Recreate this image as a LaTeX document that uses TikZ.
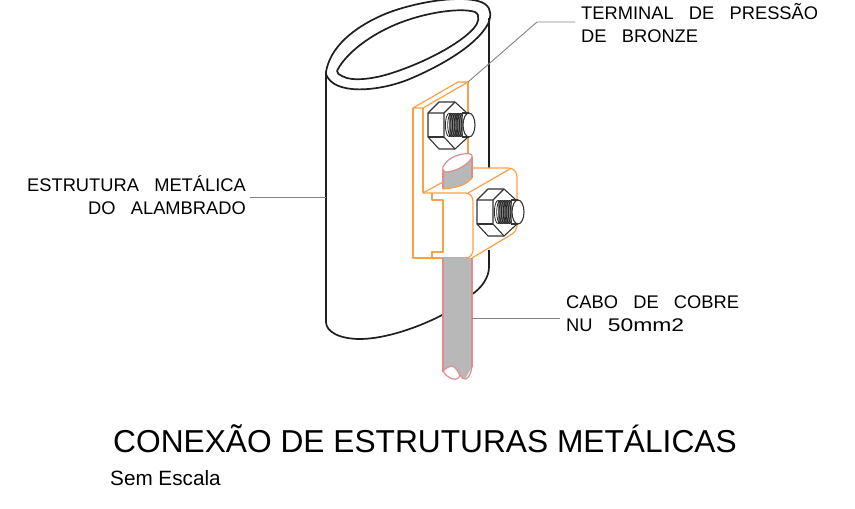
\documentclass[tikz,border=0pt]{standalone}
\usepackage{fontspec}
\setmainfont{Liberation Sans}
\newfontfamily\cadfont[WordSpace=3.0]{Liberation Sans}
\definecolor{brz}{RGB}{250,160,70}
\definecolor{cab}{RGB}{225,140,140}
\definecolor{lead}{RGB}{130,130,130}
\definecolor{cabfill}{RGB}{184,184,184}
\tikzset{
 tube/.style={line width=1.7pt,black!88},
 brzline/.style={line width=1.2pt,brz,line join=round},
 cabline/.style={line width=1.2pt,cab},
 leadline/.style={line width=0.9pt,lead},
 nutline/.style={line width=1.1pt,black!80,line join=round},
 cadlabel/.style={font=\cadfont\fontsize{18.3}{23}\selectfont,inner sep=0pt,align=left},
 cadright/.style={font=\cadfont\fontsize{18.3}{23}\selectfont,inner sep=0pt,align=right},
}
\newcommand{\nutbolt}[2]{%
 \begin{scope}[shift={(#1,#2)}]
  \fill[white] (-23,-12) -- (-12,-23) -- (4,-23) -- (16,-12) -- (16,13) -- (4,24) -- (-12,24) -- (-23,12) -- cycle;
  \draw[nutline] (-23,-12) -- (-12,-23) -- (4,-23) -- (16,-12) -- (16,13) -- (4,24) -- (-12,24) -- (-23,12) -- cycle;
  \draw[nutline] (-23,-12) -- (-7,-12) -- (4,-23);
  \draw[nutline] (-7,-12) -- (-7,12) -- (4,24);
  \draw[nutline] (-23,12) -- (-7,12);
  \fill[black!50] (-2,-12) rectangle (12,12);
  \foreach \t in {-2,0.3,2.6,4.9,7.2,9.5,11.8}{\draw[line width=0.8pt,black!85] (\t,0) ellipse (3.6 and 11.5);}
  \fill[white] (12,-12) rectangle (18,12);
  \draw[nutline,fill=white] (18,0) ellipse (6 and 12);
  \draw[nutline] (11,-12) -- (18,-12) (11,12) -- (18,12);
 \end{scope}}
\begin{document}
\begin{tikzpicture}[x=1pt,y=-1pt]
\useasboundingbox (0,0) rectangle (855,509);
% tube
\draw[tube] (326,72) .. controls (330,48) and (352,28) .. (385,14) .. controls (420,0) and (470,-6) .. (485,4) .. controls (492,9) and (491,17) .. (488,24) .. controls (476,46) and (440,66) .. (412,78) .. controls (385,90) and (340,96) .. (328,78) .. controls (326,76) and (326,74) .. (326,72);
\draw[tube] (337,71) .. controls (343,58) and (362,40) .. (390,27) .. controls (420,13) and (460,7) .. (475,12) .. controls (481,15) and (478,24) .. (474,28) .. controls (460,44) and (425,62) .. (395,72) .. controls (375,79) and (352,82) .. (342,76) .. controls (339,75) and (337,73) .. (337,71);
\draw[tube] (326,72) -- (326,322) .. controls (326,332) and (340,339) .. (360,339) .. controls (385,339) and (420,327) .. (444,314);
\draw[tube] (489,18) -- (489,168) (489,250) -- (489,267) .. controls (489,277) and (482,288) .. (471,295);
% back plate
\draw[brzline] (413,108) -- (458,82) -- (468,82) -- (423,108) -- cycle;
\draw[brzline] (468,82) -- (468,155);
\draw[brzline] (423,108) -- (423,193);
\draw[brzline] (413,108) -- (413,258) -- (467,258);
% nut 1
\nutbolt{451}{125}
% cable
\fill[cabfill] (443,167) -- (472,155) -- (472,178) .. controls (465,186) and (455,188) .. (443,189) -- cycle;
\draw[cabline,fill=white] (443,167) .. controls (446,160) and (455,155) .. (463,154) .. controls (469,153) and (473,154) .. (472,157) .. controls (470,163) and (458,171) .. (447,172) .. controls (444,172) and (442,170) .. (443,167);
\draw[cabline] (443,170) -- (443,189) (472,157) -- (472,178);
\fill[cabfill] (443,258) -- (472,258) -- (472,367) -- (465,379) -- (460,375) -- (452,366) -- (443,370) -- cycle;
\draw[cabline] (443,258) -- (443,372) (472,258) -- (472,367);
\draw[cabline,fill=white] (443,371) .. controls (446,368) and (450,366) .. (452,366) .. controls (456,367) and (458,372) .. (460,375) .. controls (459,378) and (457,380) .. (453,379) .. controls (449,378) and (445,375) .. (443,371) -- cycle;
\draw[cabline] (460,375) .. controls (462,378) and (464,380) .. (466,379) .. controls (469,377) and (471,373) .. (472,367);
% clamp
\draw[brzline] (423,193) -- (465,193) .. controls (470,193) and (473,197) .. (473,201) -- (473,250) .. controls (473,254) and (470,258) .. (466,258);
\draw[brzline] (432,193) -- (432,200) -- (443,200) -- (443,252) -- (432,252) -- (432,258);
\draw[brzline] (423,193) -- (443,182);
\draw[brzline] (443,189) .. controls (455,188) and (465,186) .. (472,178);
\draw[brzline] (468,193) -- (510,169);
\draw[brzline] (472,168) -- (508,168) .. controls (514,168) and (517,172) .. (517,177) -- (517,226) .. controls (517,229) and (515,232) .. (512,234) -- (472,258);
% nut 2
\nutbolt{500}{212}
% texts
\node[cadlabel,anchor=north west] (term) at (581,3) {TERMINAL DE PRESSÃO\\DE BRONZE};
\node[cadright,anchor=north east] (estr) at (246,175) {ESTRUTURA METÁLICA\\DO ALAMBRADO};
\node[cadlabel,anchor=north west] (cabo) at (566,296) {CABO DE COBRE\\NU {\addfontfeature{FakeStretch=1.25}50mm2}};
\node[inner sep=0pt,anchor=base west,font=\fontsize{31.7}{31}\selectfont] (tit) at (113,452) {CONEXÃO DE ESTRUTURAS METÁLICAS};
\node[inner sep=0pt,anchor=base west,font=\fontsize{20.7}{18}\selectfont] (sem) at (110,485) {Sem Escala};
% leaders
\coordinate (t1) at (468,82);
\coordinate (t2) at (537,22);
\coordinate (t3) at (575,22);
\coordinate (e1) at (326,197);
\coordinate (e2) at (250,197);
\coordinate (c1) at (472,318);
\coordinate (c2) at (560,318);
\draw[leadline] (t1) -- (t2) -- (t3);
\draw[leadline] (e1) -- (e2);
\draw[leadline] (c1) -- (c2);
\end{tikzpicture}
\end{document}
